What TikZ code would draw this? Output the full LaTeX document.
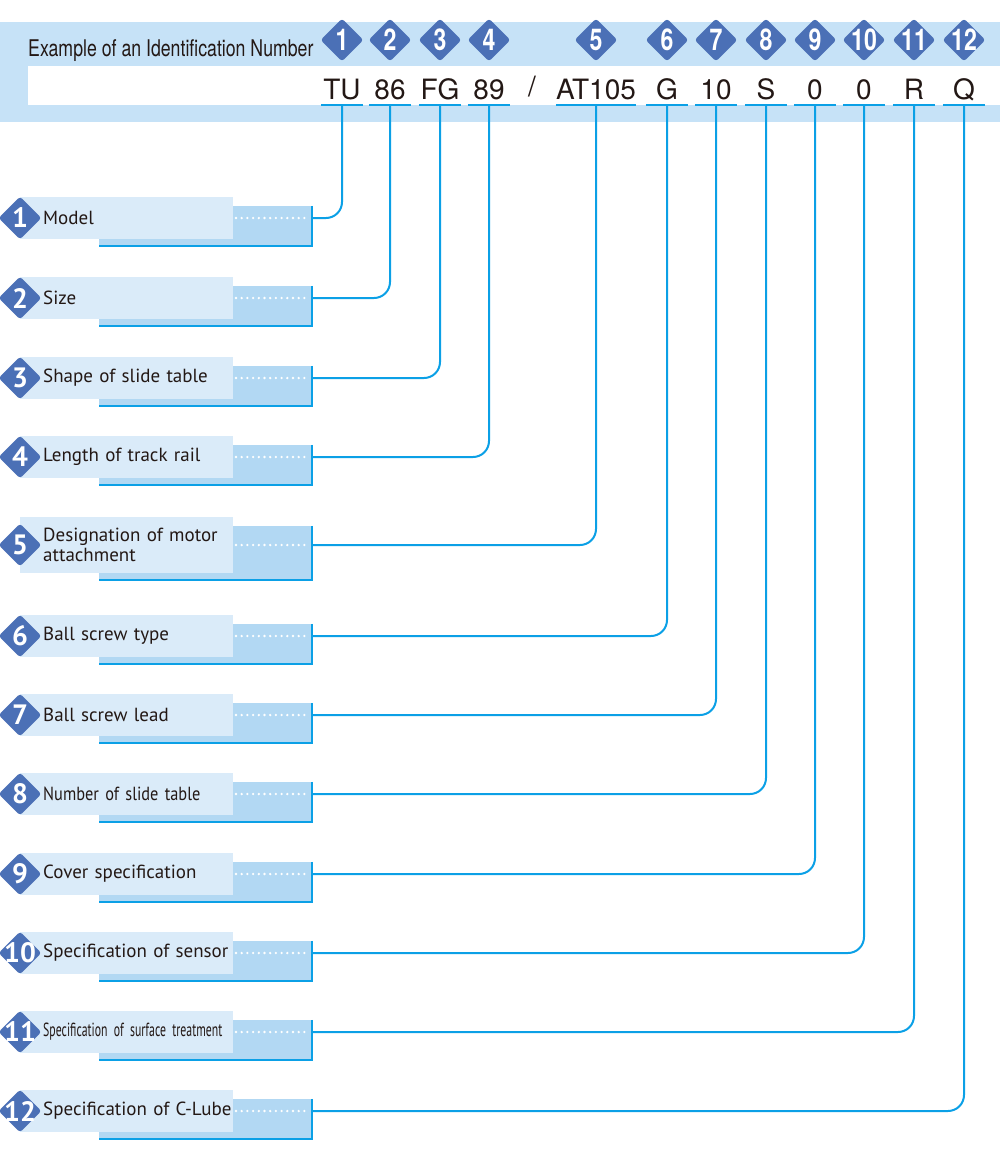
\documentclass[tikz,border=0pt]{standalone}
\usepackage{fontspec}
\setmainfont{PT Sans}
\newfontfamily\headfont[FakeStretch=0.77]{TeX Gyre Heros}
\newfontfamily\codefont{TeX Gyre Heros}
\newfontfamily\narrowfont[FakeStretch=0.86]{PT Sans}
\newfontfamily\narrowerfont[FakeStretch=0.62]{PT Sans}
\usetikzlibrary{calc,positioning,shapes.geometric,backgrounds}
\definecolor{bandblue}{HTML}{C6E2F7}
\definecolor{paleblue}{HTML}{DAEBF9}
\definecolor{midblue}{HTML}{B2D8F3}
\definecolor{linecyan}{HTML}{0BA0E6}
\definecolor{markblue}{HTML}{4B70B6}
\definecolor{inkgray}{HTML}{231815}
\tikzstyle{badge}     = [diamond, aspect=1, minimum width=43pt, minimum height=43pt, inner sep=0pt, fill=markblue, rounded corners=3pt]
\tikzstyle{badgenum}  = [text=white, inner sep=0pt, font=\headfont\bfseries\fontsize{30}{30}\selectfont]
\tikzstyle{rownum}    = [text=white, inner sep=0pt, font=\bfseries\fontsize{28}{28}\selectfont]
\tikzstyle{code}      = [anchor=south, minimum width=42pt, inner xsep=0pt, inner ysep=5pt, text depth=0pt, text=inkgray, font=\codefont\fontsize{28}{28}\selectfont]
\tikzstyle{uline}     = [linecyan, line width=2.5pt]
\tikzstyle{itemtext}  = [anchor=west, text width=190pt, inner xsep=0pt, inner ysep=11pt, minimum height=42pt, align=left, text=inkgray, font=\fontsize{19}{20}\selectfont]
\tikzstyle{boxedge}   = [linecyan, line width=2pt]
\tikzstyle{dots}      = [white, line width=2.6pt, line cap=round, dash pattern=on 0pt off 5.7pt]
\tikzstyle{conn}      = [linecyan, line width=2pt, rounded corners=16pt]

\begin{document}
\begin{tikzpicture}[x=1pt,y=-1pt]
        \useasboundingbox (0,0) rectangle (1000,1168);

        % header band
        \fill[bandblue] (0,22) rectangle (1000,122);
        \fill[white] (28,66) rectangle (1000,105);
        \node[anchor=base west, inner sep=0pt, text=inkgray, font=\headfont\fontsize{23}{23}\selectfont] (title) at (28,56) {Example of an Identification Number};

        \foreach \n/\x in {1/342,2/390,3/440,4/489,5/596,6/667,7/716,8/766,9/815,10/864,11/914,12/964}
            \node[badge, label={[badgenum]center:\n}] (b\n) at (\x,40) {};

        \foreach \n/\x/\s in {1/342/TU,2/390/86,3/440/FG,4/489/89,5/596/AT105,6/667/G,7/716/10,8/766/S,9/815/0,10/864/0,11/914/R,12/964/Q}
            \node[code] (c\n) at (\x,105) {\s};
        \node[code, minimum width=0pt] (sep) at (532,102) {/};

        \foreach \n in {1,...,12}
            \draw[uline] (c\n.south west) -- (c\n.south east);

        % items
        \foreach \n/\y/\txt in {1/218/Model,2/298/Size,3/378/Shape of slide table,4/457/Length of track rail,
                5/545/Designation of motor\\attachment,6/636/Ball screw type,7/715/Ball screw lead,
                8/794/{\narrowfont Number of slide table},9/874/Cover specification,10/953/Specification of sensor,
                11/1032/{\narrowerfont Specification of surface treatment},12/1111/Specification of C-Lube} {
            \node[itemtext] (l\n) at (43,\y) {\txt};
            \begin{scope}[on background layer]
                \fill[midblue] ($(l\n.north west)+(56,9)$) rectangle ($(l\n.south west)+(269,7)$);
                \fill[paleblue] ($(l\n.north west)+(-23,0)$) rectangle ($(l\n.south west)+(190,0)$);
            \end{scope}
            \draw[boxedge] ($(l\n.north west)+(269,9)$) -- ($(l\n.south west)+(269,7)$) -- ($(l\n.south west)+(56,7)$);
            \draw[dots] ($(l\n.west)+(193,0)$) -- ($(l\n.west)+(265,0)$);
            \coordinate (e\n) at ($(l\n.west)+(269,0)$);
            \node[badge, label={[rownum]center:\n}] (r\n) at (20,\y) {};
        }

        \foreach \n in {1,...,12}
            \draw[conn] (c\n.south) |- (e\n);
    \end{tikzpicture}
\end{document}
